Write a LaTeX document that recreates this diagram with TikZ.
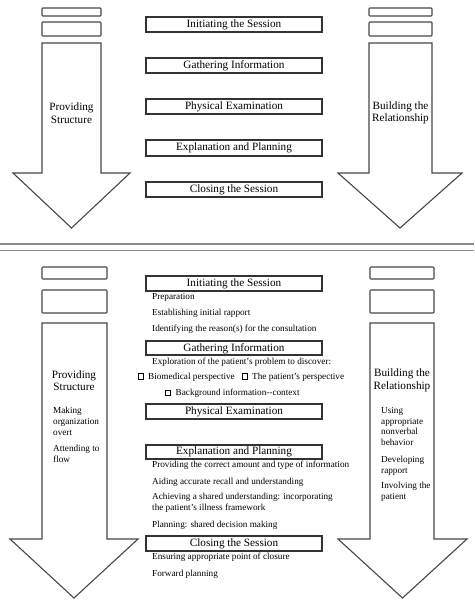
\documentclass[tikz,border=0pt]{standalone}
\usepackage{fontspec}
\setmainfont{Liberation Serif}
\begin{document}
\begin{tikzpicture}[x=1pt,y=-1pt,
  ln/.style={draw=black!72, line width=1.1pt, line join=miter},
  sbox/.style={ln, rounded corners=0.8pt},
  tbox/.style={draw=black!80, line width=1.2pt},
  ttl/.style={font=\fontsize{11.2}{12}\selectfont, text=black, inner sep=0pt},
  big/.style={font=\fontsize{11.2}{12.5}\selectfont, text=black, align=center, inner sep=0pt},
  sm/.style={font=\fontsize{9.2}{11}\selectfont, text=black, inner sep=0pt, anchor=west},
  smb/.style={font=\fontsize{9.2}{10.8}\selectfont, text=black, inner sep=0pt, anchor=north west, align=left},
  chk/.style={draw=black, line width=1.3pt, minimum size=5.5pt, inner sep=0pt},
  sep/.style={draw=black!45, line width=1.6pt}]
\useasboundingbox (0,0) rectangle (474,607);
\fill[white] (0,0) rectangle (474,607);

% ---------------- top section ----------------
\draw[sbox] (42,8) rectangle (101,16);
\draw[sbox] (42,22) rectangle (101,36);
\draw[sbox] (369,8) rectangle (432,16);
\draw[sbox] (369,22) rectangle (432,36);
\draw[ln] (42,43) -- (101,43) -- (101,173) -- (130,173) -- (71.5,228) -- (13,173) -- (42,173) -- cycle;
\draw[ln] (369,43) -- (432,43) -- (432,173) -- (462,173) -- (400,228) -- (338,173) -- (369,173) -- cycle;
\node[big] (ps1) at (71.5,113) {Providing\\Structure};
\node[big] (br1) at (400.5,113) {Building the\\Relationship};

\draw[tbox] (146,17) rectangle (322,32);
\node[ttl] (a1) at (234,24.8) {Initiating the Session};
\draw[tbox] (146,58) rectangle (322,73);
\node[ttl] (a2) at (234,65.8) {Gathering Information};
\draw[tbox] (146,99) rectangle (322,114);
\node[ttl] (a3) at (234,106.8) {Physical Examination};
\draw[tbox] (146,140) rectangle (322,156);
\node[ttl] (a4) at (234,148.3) {Explanation and Planning};
\draw[tbox] (146,182) rectangle (322,197);
\node[ttl] (a5) at (234,189.8) {Closing the Session};

% ---------------- separator ----------------
\draw[sep] (0,244) -- (474,244);
\draw[sep] (0,250.5) -- (474,250.5);

% ---------------- bottom section ----------------
\draw[sbox] (42,267) rectangle (107,279);
\draw[sbox] (42,290) rectangle (107,313);
\draw[sbox] (370,267) rectangle (434,279);
\draw[sbox] (370,290) rectangle (434,313);
\draw[ln] (42,323) -- (107,323) -- (107,539) -- (138,539) -- (74,598) -- (10,539) -- (42,539) -- cycle;
\draw[ln] (370,323) -- (434,323) -- (434,539) -- (467,539) -- (402.5,598) -- (338,539) -- (370,539) -- cycle;

\node[big] (ps2) at (74,380.5) {Providing\\Structure};
\node[big] (br2) at (402,380.5) {Building the\\Relationship};

\node[smb] (l1) at (53,407) {Making\\organization\\overt};
\node[smb] (l2) at (53,445) {Attending to\\flow};
\node[smb] (r1) at (381,407) {Using\\appropriate\\nonverbal\\behavior};
\node[smb] (r2) at (381,456) {Developing\\rapport};
\node[smb] (r3) at (381,482) {Involving the\\patient};

\draw[tbox] (146,276) rectangle (322,291);
\node[ttl] (b1) at (234,283.8) {Initiating the Session};
\node[sm] (t1) at (152,297.5) {Preparation};
\node[sm] (t2) at (152,313.5) {Establishing initial rapport};
\node[sm] (t3) at (152,329.5) {Identifying the reason(s) for the consultation};

\draw[tbox] (146,341) rectangle (322,355);
\node[ttl] (b2) at (234,348.3) {Gathering Information};
\node[sm] (t4) at (152,362) {Exploration of the patient’s problem to discover:};
\node[chk] (c1) at (141,376.5) {};
\node[sm] (t5) at (148,377) {Biomedical perspective};
\node[chk] (c2) at (245,376.5) {};
\node[sm] (t6) at (252,377) {The patient’s perspective};
\node[chk] (c3) at (168,393) {};
\node[sm] (t7) at (175.5,393.5) {Background information-{}-context};

\draw[tbox] (146,404) rectangle (322,419);
\node[ttl] (b3) at (234,411.8) {Physical Examination};

\draw[tbox] (146,445) rectangle (322,459);
\node[ttl] (b4) at (234,452.3) {Explanation and Planning};
\node[sm] (t8) at (152,465.5) {Providing the correct amount and type of information};
\node[sm] (t9) at (152,482) {Aiding accurate recall and understanding};
\node[smb] (t10) at (152,493) {Achieving a shared understanding: incorporating\\the patient’s illness framework};
\node[sm] (t11) at (152,525) {Planning: shared decision making};

\draw[tbox] (146,536) rectangle (322,551);
\node[ttl] (b5) at (234,543.8) {Closing the Session};
\node[sm] (t12) at (152,557.5) {Ensuring appropriate point of closure};
\node[sm] (t13) at (152,574) {Forward planning};
\end{tikzpicture}
\end{document}
